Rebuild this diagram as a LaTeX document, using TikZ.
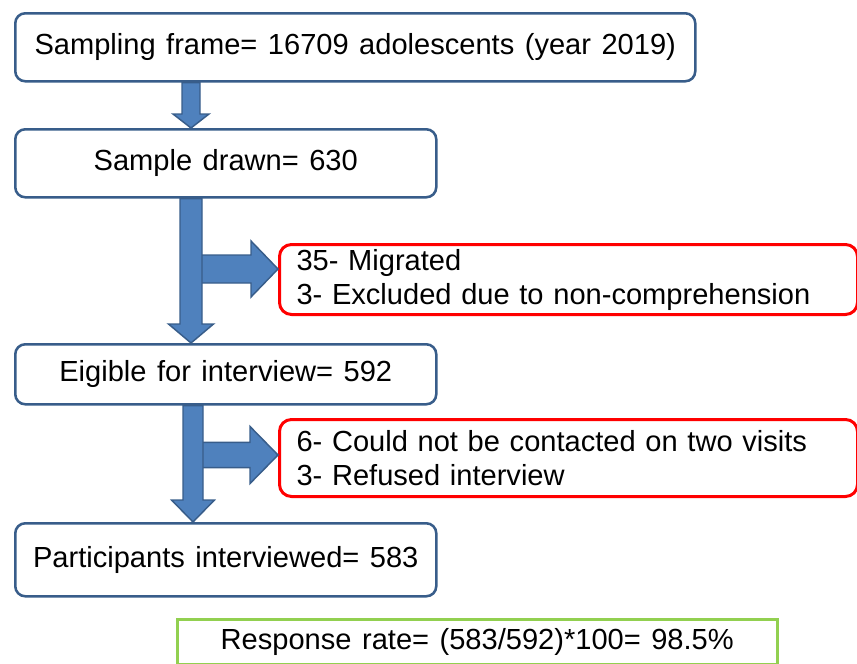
\documentclass[tikz,border=0pt]{standalone}
\usepackage{fontspec}
\setmainfont{Liberation Sans}[WordSpace=1.3]
\usetikzlibrary{calc}
\definecolor{boxblue}{HTML}{385D8A}
\definecolor{arrowblue}{HTML}{4F81BD}
\definecolor{boxred}{HTML}{FF0000}
\definecolor{boxgreen}{HTML}{92D050}

\begin{document}
\begin{tikzpicture}[x=0.75pt,y=-0.75pt,
  font=\fontsize{21.8}{25.5}\selectfont,
  stagebox/.style={draw=boxblue, line width=1.9pt, rounded corners=7.5pt,
    anchor=north west, inner sep=0pt, minimum width=315.75pt},
  lossbox/.style={draw=boxred, line width=2.25pt, rounded corners=9pt,
    anchor=north west, minimum width=433.5pt, text width=408pt, align=left,
    inner xsep=12.75pt, inner ysep=0pt},
  ratebox/.style={draw=boxgreen, line width=1.9pt, anchor=north west,
    minimum width=450pt, minimum height=33.75pt, inner sep=0pt},
  blockarrow/.style={fill=arrowblue, draw=boxblue, line width=1.1pt, line join=miter},
  vblock/.style n args={3}{to path={let \p1=(\tikztostart), \p2=(\tikztotarget) in
    (\x1-#1,\y1) -- (\x1+#1,\y1) -- (\x1+#1,\y2+#3) -- (\x1+#2,\y2+#3) -- (\x1,\y2)
    -- (\x1-#2,\y2+#3) -- (\x1-#1,\y2+#3) -- cycle}},
  hblock/.style n args={3}{to path={let \p1=(\tikztostart), \p2=(\tikztotarget) in
    (\x1,\y1-#1) -- (\x2-#3,\y1-#1) -- (\x2-#3,\y1-#2) -- (\x2,\y1) -- (\x2-#3,\y1+#2)
    -- (\x2-#3,\y1+#1) -- (\x1,\y1+#1) -- cycle}},
]
\useasboundingbox (0,0) rectangle (857,664);

\node[stagebox, minimum width=510pt, minimum height=51pt] (frame) at (14,12)
  {Sampling frame= 16709 adolescents (year 2019)};
\node[stagebox, minimum height=51pt] (drawn) at (14,128) {Sample drawn= 630};
\node[stagebox, minimum height=45pt] (eligible) at (14,343) {Eigible for interview= 592};
\node[stagebox, minimum height=54.75pt] (interviewed) at (14,522) {Participants interviewed= 583};
\node[lossbox, minimum height=52.5pt] (loss1) at (278,243)
  {35- Migrated\\3- Excluded due to non-comprehension};
\node[lossbox, minimum height=57.75pt] (loss2) at (278,418)
  {6- Could not be contacted on two visits\\3- Refused interview};
\node[ratebox] (rate) at (176,618) {Response rate= (583/592)*100= 98.5\%};

\coordinate (j1) at (191,269);
\coordinate (j2) at (193,455);

\draw[blockarrow, vblock={6.75pt}{13.5pt}{10.5pt}] (frame.south -| j1) to (drawn.north -| j1);
\draw[blockarrow, hblock={10.5pt}{21pt}{20.25pt}] (j1) to (j1 -| loss1.west);
\draw[blockarrow, vblock={8.25pt}{16.9pt}{14.25pt}] (drawn.south -| j1) to (eligible.north -| j1);
\draw[blockarrow, hblock={9.4pt}{21.4pt}{21pt}] (j2) to (j2 -| loss2.west);
\draw[blockarrow, vblock={7.5pt}{16.1pt}{16.5pt}] (eligible.south -| j2) to (interviewed.north -| j2);
\end{tikzpicture}
\end{document}
